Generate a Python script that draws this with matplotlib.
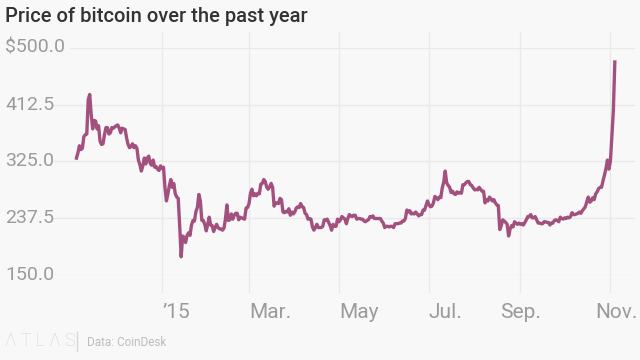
import datetime as dt
import numpy as np
import pandas as pd
import matplotlib
matplotlib.use("Agg")
import matplotlib.pyplot as plt
from matplotlib.transforms import blended_transform_factory, offset_copy

# daily closing price, USD (CoinDesk), 4 Nov 2014 - 4 Nov 2015
nov14 = [330, 338, 349, 343, 345, 363, 366, 367, 420, 428, 397, 375, 388, 387, 375,
         380, 356, 351, 352, 366, 377, 377, 367, 369, 377, 376, 378]
dec14 = [380, 381, 376, 369, 376, 375, 374, 361, 351, 346, 348, 352, 346, 349, 345,
         327, 320, 310, 318, 330, 321, 330, 333, 322, 319, 327, 316, 317, 313, 311, 318]
jan15 = [314, 316, 285, 264, 275, 288, 297, 285, 291, 275, 270, 268, 225, 178, 210,
         208, 200, 211, 215, 211, 227, 234, 233, 248, 254, 274, 264, 234, 234, 228, 218]
feb15 = [228, 239, 227, 226, 217, 223, 228, 223, 221, 221, 219, 222, 236, 258, 234,
         235, 244, 236, 242, 245, 245, 235, 239, 238, 237, 236, 253, 254]
mar15 = [260, 276, 282, 272, 275, 272, 276, 275, 290, 291, 297, 294, 285, 282, 286,
         291, 285, 256, 261, 261, 260, 268, 266, 247, 246, 248, 247, 252, 242, 247, 244]
apr15 = [247, 253, 255, 254, 260, 255, 254, 245, 243, 236, 237, 236, 224, 219, 223,
         228, 223, 223, 223, 225, 235, 234, 236, 231, 226, 219, 228, 225, 225, 236]
may15 = [232, 235, 240, 238, 236, 229, 237, 243, 241, 240, 242, 242, 236, 237, 237,
         236, 236, 233, 232, 234, 235, 240, 239, 241, 237, 237, 237, 237, 237, 233, 230]
jun15 = [223, 225, 225, 224, 225, 225, 223, 229, 229, 229, 230, 230, 233, 233, 237,
         250, 247, 249, 244, 245, 244, 247, 244, 241, 243, 243, 250, 250, 257, 264]
jul15 = [258, 255, 256, 261, 271, 269, 266, 270, 269, 284, 293, 310, 292, 288, 285,
         277, 279, 275, 274, 278, 276, 277, 276, 289, 289, 292, 294, 294, 289, 288, 284]
aug15 = [281, 282, 281, 285, 282, 279, 279, 261, 266, 264, 270, 267, 264, 266, 261,
         258, 257, 220, 226, 235, 233, 231, 228, 210, 221, 226, 224, 232, 230, 228, 230]
sep15 = [228, 229, 227, 231, 235, 240, 240, 243, 238, 238, 240, 235, 230, 230, 229,
         229, 232, 232, 231, 231, 227, 230, 230, 234, 235, 234, 232, 239, 237, 236]
oct15 = [238, 237, 239, 238, 240, 246, 243, 243, 244, 245, 247, 245, 249, 252, 255,
         263, 270, 262, 264, 269, 266, 275, 278, 283, 285, 285, 295, 304, 314, 327, 313]
nov15 = [325, 363, 403, 478]

prices = nov14 + dec14 + jan15 + feb15 + mar15 + apr15 + may15 + jun15 + jul15 + aug15 + sep15 + oct15 + nov15
dates = pd.date_range("2014-11-04", periods=len(prices), freq="D")

y_ticks = [150.0, 237.5, 325.0, 412.5, 500.0]
y_labels = ["150.0", "237.5", "325.0", "412.5", "$500.0"]
x_ticks = ["2015-01-01", "2015-03-01", "2015-05-01", "2015-07-01", "2015-09-01", "2015-11-01"]
x_labels = ["\u201915", "Mar.", "May", "Jul.", "Sep.", "Nov."]

bg = "#f8f8f8"
grid = "#e9e9e9"
gray = "#9b9b9b"
plt.rcParams["font.family"] = ["Roboto", "DejaVu Sans"]

fig = plt.figure(figsize=(6.4, 3.6), dpi=100, facecolor=bg)
W, H = 640, 360
left, right, top, bottom = 53, 635, 47.7, 275
ax = fig.add_axes([left / W, 1 - bottom / H, (right - left) / W, (bottom - top) / H])
ax.set_facecolor(bg)
for s in ax.spines.values():
    s.set_visible(False)

# x scale: 1 Jan 2015 at px 162, 1.475 px per day
day0 = dt.datetime(2015, 1, 1)
ax.set_xlim(day0 + dt.timedelta(days=(left - 162) / 1.475),
            day0 + dt.timedelta(days=(right - 162) / 1.475))
ax.set_ylim(150, 500)
ax.set_xticks([])
ax.set_yticks([])

xt = pd.to_datetime(x_ticks)
tx = blended_transform_factory(ax.transData, fig.transFigure)
for i, (x, lab) in enumerate(zip(xt, x_labels)):
    ax.axvline(x, ymin=-0.075, ymax=1.069, color=grid, lw=1, zorder=0, clip_on=False)
    # labels sit right of their gridline, the last two are pulled back to fit
    if i < 4:
        ax.text(x, 1 - 313 / H, lab, transform=tx, ha="left", va="center", color=gray, fontsize=15)
    elif i == 4:
        ax.text(x, 1 - 313 / H, lab, transform=tx, ha="center", va="center", color=gray, fontsize=15)
    else:
        ax.text(x, 1 - 313 / H, lab, transform=offset_copy(tx, fig, x=27, units="dots"),
                ha="right", va="center", color=gray, fontsize=15)

ty = blended_transform_factory(fig.transFigure, ax.transData)
for y, lab in zip(y_ticks, y_labels):
    xmin = (70 - left) / (right - left) if lab.startswith("$") else 0
    ax.axhline(y, xmin=xmin, color=grid, lw=1, zorder=0)
    ax.text(5 / W, y, lab, transform=ty, ha="left", va="center", color=gray, fontsize=14)

ax.plot(dates, prices, color="#a2517f", lw=2.4, solid_joinstyle="round", zorder=3)

fig.text(5 / W, 1 - 16 / H, "Price of bitcoin over the past year", ha="left", va="center",
         color="#333333", fontsize=14.5, fontweight="medium")

# footer
fig.text(5 / W, 1 - 341 / H, "\u039b T L \u039b S", ha="left", va="center", color="#d2d2d2",
         fontsize=13, fontweight="light")
fig.add_artist(plt.Line2D([77 / W, 77 / W], [1 - 332 / H, 1 - 351 / H], color="#d8d8d8", lw=1))
fig.text(87 / W, 1 - 342 / H, "Data: CoinDesk", ha="left", va="center", color="#bdbdbd", fontsize=8.5)

fig.savefig("out.png", dpi=100, facecolor=bg)
